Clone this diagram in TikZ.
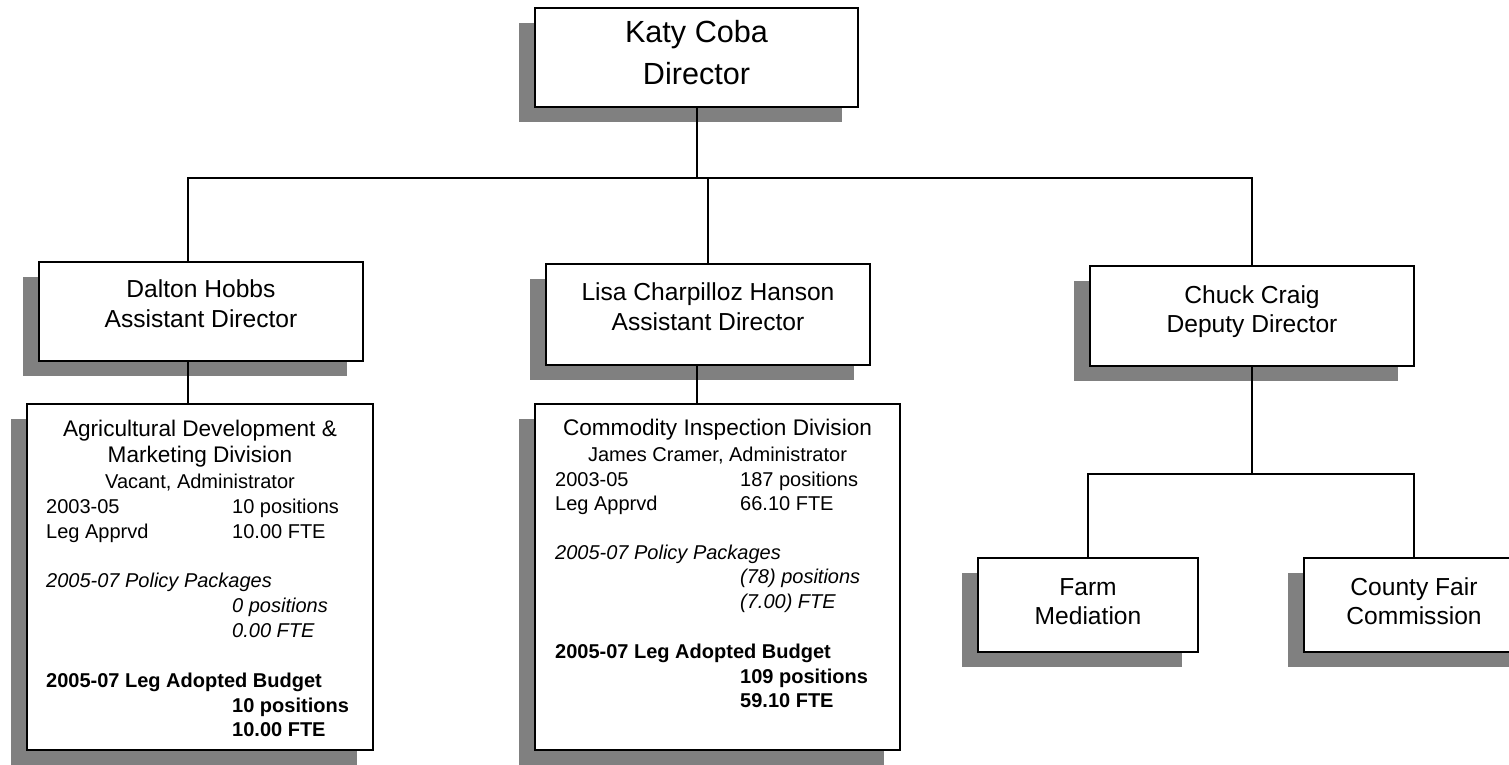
\documentclass[tikz,border=0pt]{standalone}
\usepackage{fontspec}
\setmainfont{Liberation Sans}
\usetikzlibrary{shadows}
\newcommand\fKaty{\fontsize{30.6pt}{36pt}\selectfont}
\newcommand\fMid{\fontsize{24.6pt}{29pt}\selectfont}
\newcommand\fTitle{\fontsize{22.6pt}{26pt}\selectfont}
\newcommand\fData{\fontsize{20pt}{24pt}\selectfont}
\begin{document}
\begin{tikzpicture}[x=1pt,y=-1pt,
  box/.style={draw, line width=1.6pt, fill=white, inner sep=0pt,
    drop shadow={shadow xshift=-16pt, shadow yshift=-15pt, opacity=1, fill=black!50}},
  conn/.style={line width=1.3pt},
  txt/.style={inner sep=0pt, anchor=base},
  lcol/.style={inner sep=0pt, anchor=base west, font=\fData},
  ctr/.style={inner sep=0pt, anchor=base, font=\fData}]
\useasboundingbox (0,0) rectangle (1509,765);
\clip (0,0) rectangle (1509,765);
\fill[white] (0,0) rectangle (1509,765);
\coordinate (bus) at (0,178);
\coordinate (bus2) at (0,474);
% boxes
\node[box, minimum width=323pt, minimum height=99pt] (katy) at (696.5,57.5) {};
\node[box, minimum width=324pt, minimum height=99pt] (dalton) at (201,311.5) {};
\node[box, minimum width=324pt, minimum height=101pt] (lisa) at (708,314.5) {};
\node[box, minimum width=324pt, minimum height=100pt] (chuck) at (1252,316) {};
\node[box, minimum width=346pt, minimum height=346pt] (agri) at (200,577) {};
\node[box, minimum width=365pt, minimum height=346pt] (comm) at (717.5,577) {};
\node[box, minimum width=220pt, minimum height=94pt] (farm) at (1088,605) {};
\node[box, minimum width=260pt, minimum height=94pt] (county) at (1434,605) {};
% connectors
\draw[conn] ([xshift=0.5pt]katy.south) -- ([xshift=0.5pt]katy.south |- bus);
\draw[conn] ([xshift=-13pt]dalton.north) |- (chuck.north |- bus) -- (chuck.north);
\draw[conn] (lisa.north) -- (lisa.north |- bus);
\draw[conn] ([xshift=-13pt]dalton.south) -- ([xshift=-12pt]agri.north);
\draw[conn] ([xshift=-11pt]lisa.south) -- ([xshift=-20.5pt]comm.north);
\draw[conn] (chuck.south) -- (chuck.south |- bus2);
\draw[conn] (farm.north) |- ([xshift=-20pt]county.north |- bus2) -- ([xshift=-20pt]county.north);
% texts top / level 2
\node[txt, font=\fKaty] (k1) at (696.5,43) {Katy Coba};
\node[txt, font=\fKaty] (k2) at (696.5,85) {Director};
\node[txt, font=\fMid] (d1) at (201,297) {Dalton Hobbs};
\node[txt, font=\fMid] (d2) at (201,327) {Assistant Director};
\node[txt, font=\fMid] (l1) at (708,300) {Lisa Charpilloz Hanson};
\node[txt, font=\fMid] (l2) at (708,330) {Assistant Director};
\node[txt, font=\fMid] (h1) at (1252,303) {Chuck Craig};
\node[txt, font=\fMid] (h2) at (1252,332) {Deputy Director};
\node[txt, font=\fMid] (f1) at (1088,595) {Farm};
\node[txt, font=\fMid] (f2) at (1088,624) {Mediation};
\node[txt, font=\fMid] (y1) at (1414,595) {County Fair};
\node[txt, font=\fMid] (y2) at (1414,624) {Commission};
% agricultural box text
\node[txt, font=\fTitle] (a1) at (200,436) {Agricultural Development \&};
\node[txt, font=\fTitle] (a2) at (200,462) {Marketing Division};
\node[ctr] (a3) at (200,488) {Vacant, Administrator};
\node[lcol] (a4) at (46,513) {2003-05};
\node[lcol] (a5) at (232,513) {10 positions};
\node[lcol] (a6) at (46,538) {Leg Apprvd};
\node[lcol] (a7) at (232,538) {10.00 FTE};
\node[lcol, font=\fData\itshape] (a8) at (46,587) {2005-07 Policy Packages};
\node[lcol, font=\fData\itshape] (a9) at (232,612) {0 positions};
\node[lcol, font=\fData\itshape] (a10) at (232,637) {0.00 FTE};
\node[lcol, font=\fData\bfseries] (a11) at (46,687) {2005-07 Leg Adopted Budget};
\node[lcol, font=\fData\bfseries] (a12) at (232,712) {10 positions};
\node[lcol, font=\fData\bfseries] (a13) at (232,736) {10.00 FTE};
% commodity box text
\node[txt, font=\fTitle] (c1) at (717.5,435) {Commodity Inspection Division};
\node[ctr] (c2) at (717.5,461) {James Cramer, Administrator};
\node[lcol] (c3) at (555,486) {2003-05};
\node[lcol] (c4) at (740,486) {187 positions};
\node[lcol] (c5) at (555,510) {Leg Apprvd};
\node[lcol] (c6) at (740,510) {66.10 FTE};
\node[lcol, font=\fData\itshape] (c7) at (555,559) {2005-07 Policy Packages};
\node[lcol, font=\fData\itshape] (c8) at (740,583) {(78) positions};
\node[lcol, font=\fData\itshape] (c9) at (740,608) {(7.00) FTE};
\node[lcol, font=\fData\bfseries] (c10) at (555,658) {2005-07 Leg Adopted Budget};
\node[lcol, font=\fData\bfseries] (c11) at (740,683) {109 positions};
\node[lcol, font=\fData\bfseries] (c12) at (740,707) {59.10 FTE};
\end{tikzpicture}
\end{document}
